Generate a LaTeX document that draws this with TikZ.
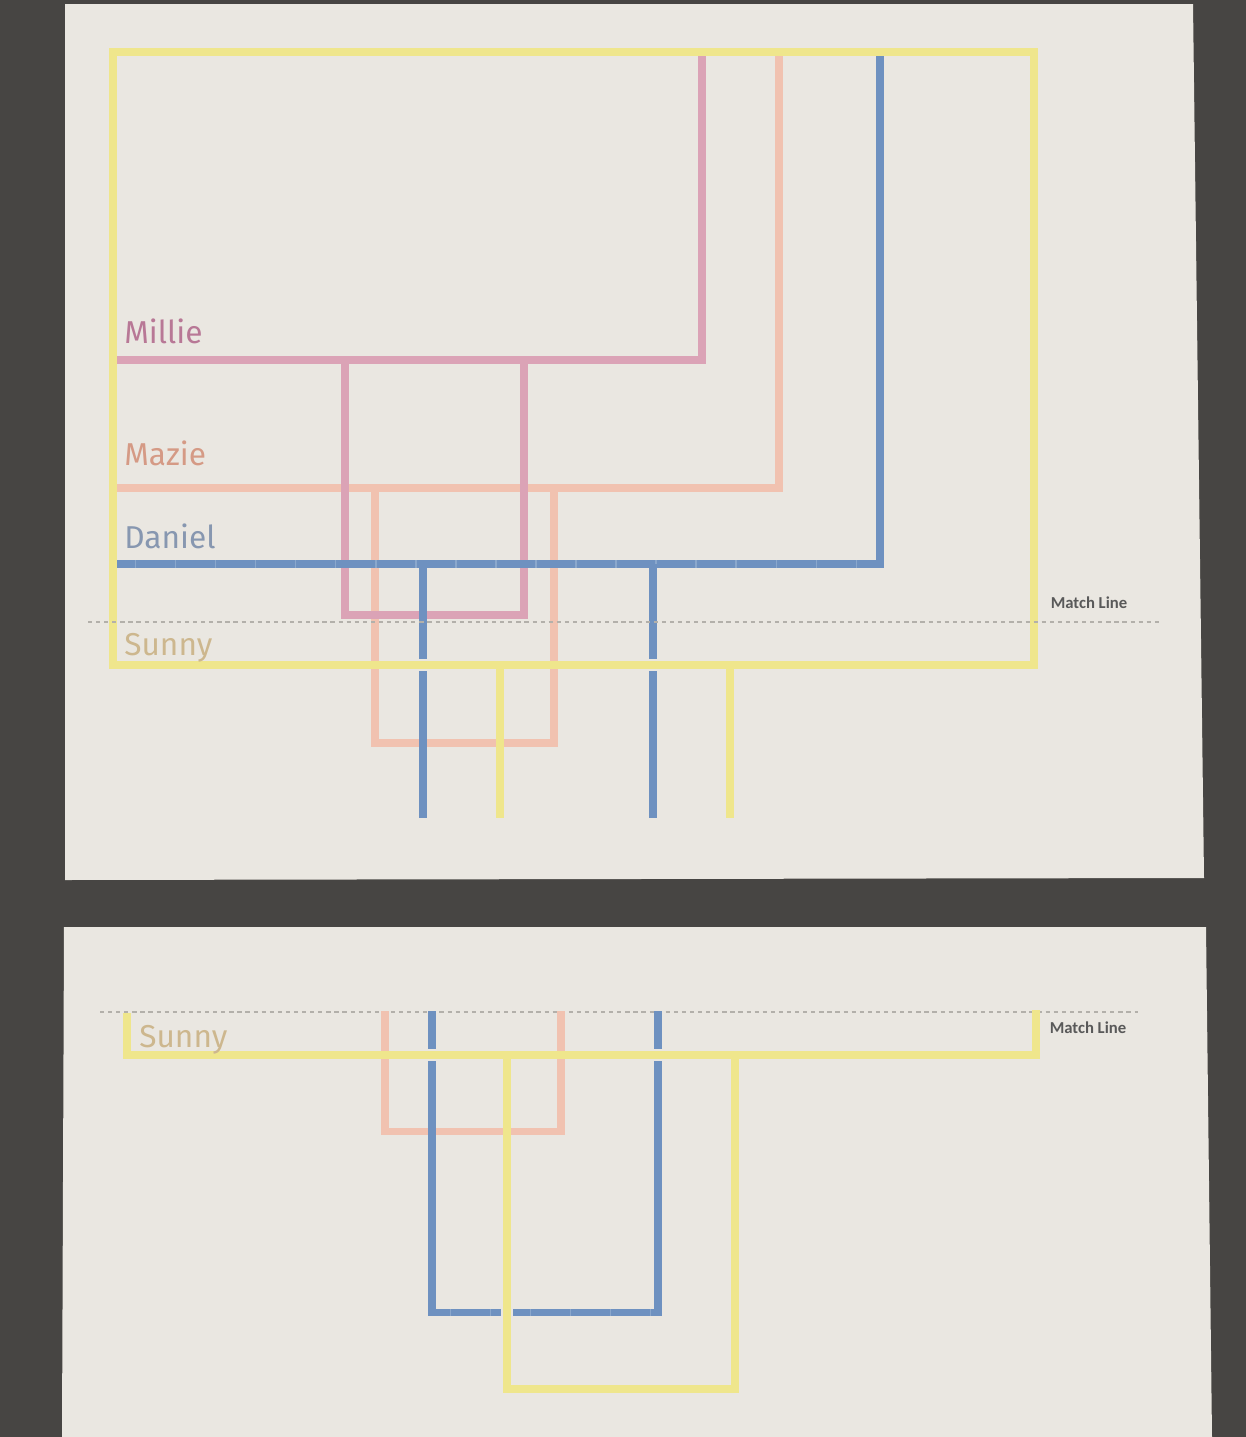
\documentclass[tikz,border=0pt]{standalone}
\usepackage{fontspec}
\setmainfont{Fira Sans}
\newfontfamily\matchfont{Carlito}
\usetikzlibrary{positioning}
\definecolor{bgdark}{HTML}{474543}
\definecolor{paper}{HTML}{EAE7E1}
\definecolor{sunny}{HTML}{EFE68C}
\definecolor{millie}{HTML}{DBA3B6}
\definecolor{mazie}{HTML}{F1C2B0}
\definecolor{daniel}{HTML}{6E91C0}
\definecolor{danlite}{HTML}{8AA7CC}
\definecolor{millietxt}{HTML}{B87896}
\definecolor{mazietxt}{HTML}{D59A85}
\definecolor{danieltxt}{HTML}{8797B0}
\definecolor{sunnytxt}{HTML}{CDB78E}
\definecolor{matchgray}{HTML}{B3B0AA}
\tikzset{
  sl/.style={draw=sunny,line width=4.4pt},
  ml/.style={draw=millie,line width=4pt},
  zl/.style={draw=mazie,line width=4pt},
  dl/.style={draw=daniel,line width=4pt},
  seam/.style={draw=danlite,line width=4pt,dash pattern=on 0.9pt off 21.9pt,dash phase=-10pt},
  cut/.style={draw=paper,line width=7pt},
  mline/.style={draw=matchgray,line width=0.7pt,dash pattern=on 2.4pt off 2.2pt},
  lbl/.style={anchor=base west,font=\fontsize{18}{20}\selectfont,inner sep=0pt},
  mlab/.style={font=\matchfont\bfseries\fontsize{9.5}{11}\selectfont,text=black!65,inner sep=0pt}
}

\begin{document}
\begin{tikzpicture}[x=0.02cm,y=-0.02cm]
\useasboundingbox (0,0) rectangle (1246,1437);
\fill[bgdark] (0,0) rectangle (1246,1437);
\fill[paper] (65,4) -- (1193,4) -- (1204,878) -- (65,880) -- cycle;
\fill[paper] (64,927) -- (1206,927) -- (1212,1437) -- (62,1437) -- cycle;
% upper sheet
\draw[zl] (779,56) -- (779,488) -- (117,488);
\draw[zl] (375,488) -- (375,743) -- (554,743) -- (554,488);
\draw[ml] (702,56) -- (702,360) -- (117,360);
\draw[ml] (345,360) -- (345,615) -- (524,615) -- (524,360);
\draw[dl] (880,56) -- (880,564) -- (117,564);
\draw[seam] (117,564) -- (878,564);
\draw[dl] (423,564) -- (423,818);
\draw[dl] (653,564) -- (653,818);
\draw[cut] (423,659) -- (423,671);
\draw[cut] (653,659) -- (653,671);
\draw[sl] (113,52) rectangle (1034,665);
\draw[sl] (500,665) -- (500,818);
\draw[sl] (730,665) -- (730,818);
\draw[mline] (88,622) -- (1160,622);
\node[lbl,text=millietxt] (Mi) at (124,343) {Millie};
\node[lbl,text=mazietxt] (Ma) at (124,465) {Mazie};
\node[lbl,text=danieltxt] (D) at (124,548) {Daniel};
\node[lbl,text=sunnytxt] (S) at (124,655) {Sunny};
\node[mlab] (L) at (1089,603) {Match Line};
% lower sheet
\draw[mline] (100,1012) -- (1138,1012);
\draw[zl] (385,1011) -- (385,1131) -- (561,1131) -- (561,1011);
\draw[dl] (432,1011) -- (432,1312) -- (658,1312) -- (658,1011);
\draw[seam] (432,1312) -- (658,1312);
\draw[cut] (432,1049) -- (432,1061);
\draw[cut] (658,1049) -- (658,1061);
\draw[cut] (501,1312) -- (513,1312);
\draw[sl] (127,1013) -- (127,1055) -- (1036,1055) -- (1036,1010);
\draw[sl] (507,1055) -- (507,1389) -- (735,1389) -- (735,1055);
\node[lbl,text=sunnytxt] (S2) at (139,1047) {Sunny};
\node[mlab] (L2) at (1088,1028) {Match Line};
\end{tikzpicture}
\end{document}
